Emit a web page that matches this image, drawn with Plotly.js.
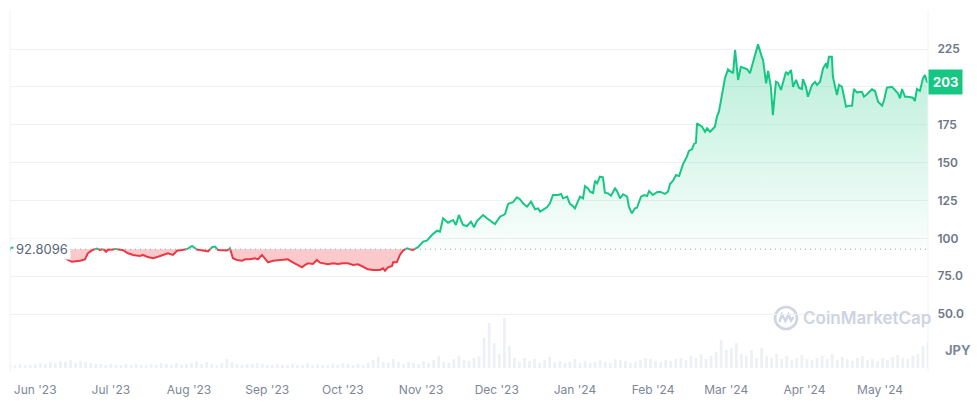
<!DOCTYPE html>
<html>
<head>
<meta charset="utf-8">
<script src="https://cdn.plot.ly/plotly-3.0.1.min.js"></script>
<style>html,body{margin:0;padding:0;background:#fff;}#chart{width:977px;height:408px;}</style>
</head>
<body>
<div id="chart"></div>
<script>
// ---- DATA ----
// day offsets counted from 2023-05-22
const dayOffsets = [0,4.0,7.9,11.9,15.9,19.0,20.6,21.8,24.5,27.8,29.7,30.9,32.9,34.5,35.7,36.9,38.1,38.9,40.4,41.6,43.6,44.8,46.8,48.8,51.5,52.7,54.3,56.7,58.7,60.7,62.6,64.6,66.2,68.2,70.2,72.2,74.1,76.5,78.5,80.1,81.3,82.5,86.0,87.2,88.4,90.0,92.0,93.2,95.2,97.1,98.3,99.9,101.1,102.3,104.3,107.9,110.2,111.8,113.8,115.8,117.0,118.2,120.1,121.7,122.9,124.5,126.1,128.1,130.1,132.0,134.0,136.0,138.0,140.0,141.9,143.9,146.7,147.9,148.7,149.9,151.5,151.9,153.4,154.6,155.8,157.4,158.6,159.8,161.8,163.8,165.3,167.3,169.3,170.5,171.7,173.7,175.7,176.8,178.0,179.6,181.2,182.8,184.0,185.2,187.6,189.1,191.1,192.3,194.3,196.3,197.5,199.4,201.0,202.2,203.4,205.0,206.6,208.2,209.4,210.2,212.9,214.1,215.3,217.3,218.5,219.3,220.9,222.0,223.2,224.0,226.0,227.2,228.0,229.2,230.0,231.2,232.0,232.8,233.9,235.1,235.9,237.1,238.3,239.9,240.7,241.9,243.1,244.7,245.4,246.6,247.8,248.6,250.2,251.4,252.6,253.4,254.9,256.5,257.7,259.7,260.9,261.7,262.9,264.1,265.3,266.9,268.4,269.2,270.4,271.2,272.0,272.4,274.4,275.6,276.4,277.6,279.5,280.3,281.1,282.3,283.5,284.7,286.7,287.5,288.7,289.8,291.0,292.2,293.4,294.6,295.4,296.6,298.2,298.6,299.8,300.6,301.7,302.5,303.7,304.5,305.7,307.7,308.5,309.7,310.5,311.7,312.8,314.0,314.4,315.6,316.4,318.0,319.2,320.0,321.2,322.4,323.6,324.0,324.7,325.9,326.3,327.9,328.7,329.9,331.5,332.7,333.9,334.6,335.8,337.8,338.6,339.8,341.8,343.0,344.2,345.8,346.5,347.7,349.7,350.9,352.1,352.9,353.7,354.9,356.1,358.0,358.8,359.6,360.8,362.0,362.8,363.6,364.0];
const pricesJPY = [93.6,94.6,94.2,95.0,94.6,95.0,93.6,86.8,84.5,85.2,86.1,90.1,92.5,93.2,92.3,93.0,91.1,92.6,92.4,93.0,92.6,92.1,90.1,89.0,88.3,89.0,87.8,86.8,87.8,89.0,90.1,89.0,91.8,92.3,92.9,95.0,92.6,91.9,91.3,94.1,94.5,92.3,91.9,93.4,86.8,85.7,85.2,86.1,86.1,86.8,86.1,89.0,86.8,84.1,85.2,85.7,86.1,84.5,82.4,80.8,82.4,83.5,83.0,85.7,83.9,83.5,82.8,83.5,83.0,83.5,83.5,82.4,82.8,81.2,79.5,79.1,79.1,80.2,78.6,80.8,81.7,84.1,84.1,89.0,91.8,93.4,92.7,92.3,94.1,97.8,98.4,102.2,105.0,104.4,113.2,110.3,112.1,108.8,115.4,108.8,108.1,111.0,107.3,111.6,115.4,113.2,111.0,109.4,114.3,116.0,122.7,123.8,127.1,125.8,123.1,120.9,124.2,119.2,119.8,117.6,120.5,123.1,128.6,128.6,129.3,126.4,127.5,122.7,121.3,119.8,127.5,126.4,134.5,133.0,130.8,129.9,138.0,136.3,140.7,140.3,130.1,129.7,128.1,133.0,131.2,126.4,129.1,127.5,120.9,116.5,119.8,120.2,127.5,128.6,127.9,131.2,128.6,130.4,130.8,129.3,130.8,135.9,138.0,141.8,141.1,149.1,153.9,157.7,158.8,162.3,163.1,176.0,173.7,170.4,172.7,170.4,173.7,180.3,183.6,193.5,205.7,211.6,209.0,224.4,204.6,213.3,212.3,211.8,209.0,216.6,219.9,228.1,219.3,217.8,202.4,210.5,200.1,181.4,203.4,202.8,198.0,210.0,208.3,211.2,200.1,204.6,199.5,198.6,205.2,200.1,193.5,201.3,203.4,201.3,203.4,212.3,215.6,212.3,219.9,219.9,206.7,194.6,201.3,200.1,186.9,187.6,187.6,198.6,196.4,196.8,193.5,195.1,198.4,197.3,190.2,187.6,190.7,199.5,200.1,198.0,195.8,192.5,198.6,193.5,193.5,192.9,190.7,198.6,197.3,205.7,207.9,203.4,203.0];
// volume, one bar per two days from 2023-05-22 (relative units)
const volume = [3,3,4,3,3,4,5,4,6,5,7,
  6,8,5,7,6,5,4,4,3,4,
  3,3,4,3,4,3,3,4,3,5,
  4,3,5,3,4,5,7,4,6,4,
  3,5,9,6,4,3,4,4,5,4,
  3,3,4,3,3,4,3,3,5,3,
  4,3,3,4,3,5,4,3,4,3,
  5,8,11,6,5,9,6,4,6,5,
  4,7,5,8,12,6,5,9,12,8,
  7,10,12,30,45,25,14,50,22,10,
  6,10,7,9,5,8,11,6,7,5,
  6,9,5,7,5,6,8,6,5,9,
  8,7,5,6,8,10,9,7,6,8,
  7,9,10,8,12,10,14,9,12,16,
  28,18,20,25,14,12,18,10,20,12,
  10,14,9,12,8,10,13,9,8,10,
  12,9,14,8,11,9,7,10,12,8,
  9,7,10,8,11,13,10,9,12,14,22,26];
const basePrice = 92.8096;
const lastPrice = 203;
const monthTicks = ['2023-06-01','2023-07-01','2023-08-01','2023-09-01','2023-10-01','2023-11-01','2023-12-01','2024-01-01','2024-02-01','2024-03-01','2024-04-01','2024-05-01'];
const monthLabels = ["Jun '23","Jul '23","Aug '23","Sep '23","Oct '23","Nov '23","Dec '23","Jan '24","Feb '24","Mar '24","Apr '24","May '24"];
const yTickVals = [50,75,100,125,150,175,200,225];
const yTickText = ['50.0','75.0','100','125','150','175','','225'];

// ---- BUILD ----
const START = Date.UTC(2023,4,22);
const DAY = 864e5;
const toDate = d => new Date(START + d*DAY).toISOString().slice(0,19).replace('T',' ');

// insert crossing points with the base line so colours switch cleanly
const ad = [], ap = [];
for (let i = 0; i < dayOffsets.length; i++) {
  if (i > 0) {
    const p0 = pricesJPY[i-1], p1 = pricesJPY[i];
    if ((p0 - basePrice) * (p1 - basePrice) < 0) {
      const t = (basePrice - p0) / (p1 - p0);
      ad.push(dayOffsets[i-1] + t * (dayOffsets[i] - dayOffsets[i-1]));
      ap.push(basePrice);
    }
  }
  ad.push(dayOffsets[i]); ap.push(pricesJPY[i]);
}
const X = ad.map(toDate);
const baseY = X.map(() => basePrice);
const upY = ap.map(v => Math.max(v, basePrice));
const dnY = ap.map(v => Math.min(v, basePrice));
const greenLine = ap.map(v => v >= basePrice ? v : null);
const redLine = ap.map(v => v <= basePrice ? v : null);
const volX = volume.map((_, i) => toDate(i*2));

const GREEN = '#16c784', RED = '#ea3943';
const traces = [
  {x: volX, y: volume, type: 'bar', yaxis: 'y2', marker: {color: '#edf0f4'}, width: volume.map(() => 1.1*DAY), hoverinfo: 'skip'},
  {x: X, y: baseY, mode: 'lines', line: {width: 0}, hoverinfo: 'skip'},
  {x: X, y: upY, mode: 'lines', line: {width: 0}, fill: 'tonexty',
   fillgradient: {type: 'vertical', start: basePrice, stop: 232,
     colorscale: [[0, 'rgba(22,199,132,0.02)'], [1, 'rgba(22,199,132,0.32)']]}, hoverinfo: 'skip'},
  {x: X, y: baseY, mode: 'lines', line: {width: 0}, hoverinfo: 'skip'},
  {x: X, y: dnY, mode: 'lines', line: {width: 0}, fill: 'tonexty', fillcolor: 'rgba(234,57,67,0.27)', hoverinfo: 'skip'},
  {x: X, y: greenLine, mode: 'lines', line: {color: GREEN, width: 2}, connectgaps: false},
  {x: X, y: redLine, mode: 'lines', line: {color: RED, width: 2}, connectgaps: false}
];

// pixel helpers for decorations (plot area: x 10..928, y 10..368)
const PL = 10, PR = 928, PT = 10, PB = 368;
const px = x => (x - PL) / (PR - PL);
const py = y => (PB - y) / (PB - PT);
const logoPath = 'M ' + [[779.5,322],[782,314.5],[785.5,321],[788.5,314.5],[791,320.5],[793.5,317]].map(p => px(p[0]) + ',' + py(p[1])).join(' L ');

const layout = {
  width: 977, height: 408,
  margin: {l: PL, r: 977 - PR, t: PT, b: 408 - PB},
  paper_bgcolor: '#ffffff', plot_bgcolor: '#ffffff',
  showlegend: false,
  font: {family: 'Inter, "Noto Sans", sans-serif'},
  xaxis: {type: 'date', range: [toDate(0), toDate(364)], tickvals: monthTicks, ticktext: monthLabels,
    showgrid: false, zeroline: false, showline: false, ticks: 'outside', ticklen: 11, tickcolor: 'rgba(0,0,0,0)',
    tickfont: {family: 'Inter', size: 12, color: '#7d879a'}, fixedrange: true},
  yaxis: {side: 'right', range: [14.33, 250.8], tickvals: yTickVals, ticktext: yTickText,
    showgrid: true, gridcolor: '#eff2f5', gridwidth: 1, zeroline: false, showline: false,
    ticks: 'outside', ticklen: 6, tickcolor: 'rgba(0,0,0,0)',
    tickfont: {family: 'Inter', size: 12, color: '#6b7689', weight: 600}},
  yaxis2: {overlaying: 'y', range: [0, 358], visible: false, showgrid: false},
  shapes: [
    {type: 'line', xref: 'paper', yref: 'paper', x0: 1, x1: 1, y0: -0.01, y1: 1, line: {color: '#eff2f5', width: 1}},
    {type: 'line', xref: 'paper', yref: 'paper', x0: 0, x1: 0, y0: -0.01, y1: 1, line: {color: '#eff2f5', width: 1}},
    {type: 'line', xref: 'paper', yref: 'y', x0: 0, x1: 1, y0: basePrice, y1: basePrice, line: {color: '#98a0ad', width: 1, dash: '1px,4px'}},
    {type: 'circle', xref: 'paper', yref: 'paper', x0: px(775), x1: px(797), y0: py(329), y1: py(307), line: {color: '#cfd6e1', width: 2.6}, layer: 'below'},
    {type: 'path', xref: 'paper', yref: 'paper', path: logoPath, line: {color: '#cfd6e1', width: 2.4}, layer: 'below'}
  ],
  annotations: [
    {xref: 'paper', yref: 'y', x: px(13), y: basePrice, xanchor: 'left', yanchor: 'middle', text: String(basePrice),
     showarrow: false, bgcolor: '#ffffff', borderpad: 2, font: {family: 'Inter', size: 13, color: '#58667e'}},
    {xref: 'paper', yref: 'y', x: 1, y: lastPrice, xanchor: 'left', yanchor: 'middle', text: '<b>' + lastPrice + '</b>',
     showarrow: false, bgcolor: GREEN, borderpad: 4, xshift: 0, font: {family: 'Inter', size: 13, color: '#ffffff'}},
    {xref: 'paper', yref: 'paper', x: px(958), y: py(350), xanchor: 'center', yanchor: 'middle', text: '<b>JPY</b>',
     showarrow: false, font: {family: 'Inter', size: 13, color: '#7d879a'}},
    {xref: 'paper', yref: 'paper', x: px(801), y: py(318), xanchor: 'left', yanchor: 'middle', text: 'CoinMarketCap',
     showarrow: false, font: {family: 'Inter', size: 17, color: '#cdd4df', weight: 600}}
  ]
};

Plotly.newPlot('chart', traces, layout, {staticPlot: true, displayModeBar: false});
</script>
</body>
</html>
